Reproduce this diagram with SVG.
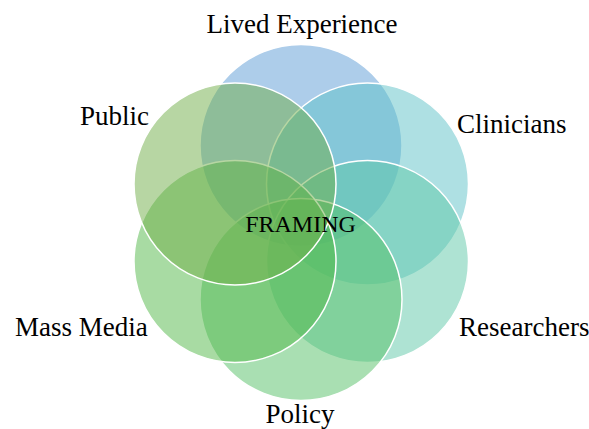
<svg xmlns="http://www.w3.org/2000/svg" width="589" height="429" viewBox="0 0 589 429">
<style>
.c{fill-opacity:0.5;stroke:#ffffff;stroke-width:1.5}
.t{font-family:"Liberation Serif","Times New Roman",serif;font-size:27px;fill:#000}
.f{font-family:"Liberation Serif","Times New Roman",serif;font-size:24px;fill:#000}
</style>
<rect width="589" height="429" fill="#ffffff"/>
<g id="lived-experience">
<circle class="c" cx="301" cy="145.5" r="101" fill="#5B9BD5"/>
<text class="t" x="302" y="33" text-anchor="middle">Lived Experience</text>
</g>
<g id="clinicians">
<circle class="c" cx="367.5" cy="184" r="101" fill="#5DC1C7"/>
<text class="t" x="457" y="133">Clinicians</text>
</g>
<g id="researchers">
<circle class="c" cx="367.5" cy="261.5" r="101" fill="#5DC7A7"/>
<text class="t" x="459" y="336">Researchers</text>
</g>
<g id="policy">
<circle class="c" cx="301" cy="299.5" r="101" fill="#53BF65"/>
<text class="t" x="300" y="423" text-anchor="middle">Policy</text>
</g>
<g id="mass-media">
<circle class="c" cx="235" cy="261.5" r="101" fill="#51B747"/>
<text class="t" x="15" y="336">Mass Media</text>
</g>
<g id="public">
<circle class="c" cx="235" cy="184" r="101" fill="#70AD47"/>
<text class="t" x="80" y="125">Public</text>
</g>
<g id="framing">
<text class="f" x="300.5" y="232" text-anchor="middle">FRAMING</text>
</g>
<g id="connectors"/>
</svg>
